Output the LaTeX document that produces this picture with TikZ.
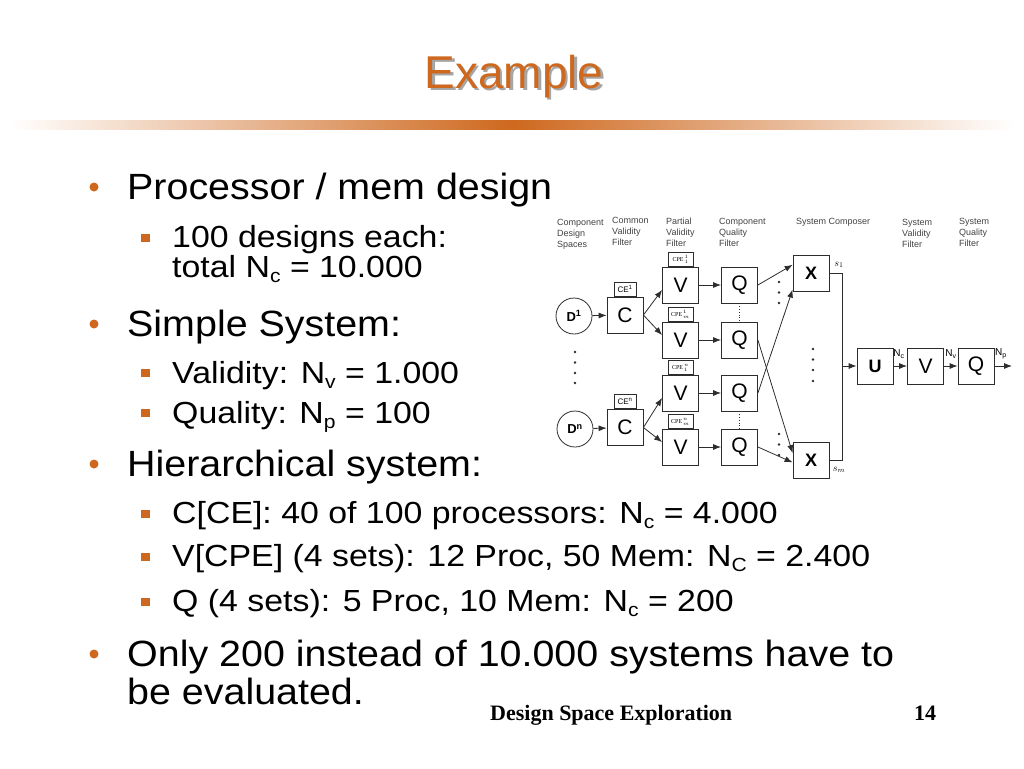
\documentclass[tikz,border=0pt]{standalone}
\usepackage{fontspec}
\setmainfont{Liberation Sans}
\newfontfamily\timesfont{Liberation Serif}
\newfontfamily\bodyfont[FakeStretch=1.08]{Liberation Sans}
\newfontfamily\itemfont[FakeStretch=1.11]{Liberation Sans}
\usepackage{tikz}
\usetikzlibrary{arrows.meta, positioning}
\usepackage{xcolor}
\definecolor{slideorange}{RGB}{206,104,30}
\definecolor{ink}{RGB}{45,45,45}
\newcommand\lowsub[1]{\raisebox{-0.17em}{\fontsize{19}{19}\selectfont #1}}

\begin{document}
\begin{tikzpicture}[x=1pt, y=-1pt,
    mainitem/.style={anchor=base west, inner sep=0pt, font=\bodyfont\fontsize{36.5}{40}\selectfont},
    subitem/.style={anchor=base west, inner sep=0pt, font=\itemfont\fontsize{30.5}{34}\selectfont},
    hdr/.style={anchor=north west, align=left, inner sep=0pt, text=ink!90, font=\fontsize{9}{11}\selectfont},
    box/.style={draw=ink, line width=0.8pt, minimum width=36pt, minimum height=36pt, inner sep=0pt, font=\fontsize{21}{21}\selectfont},
    disc/.style={draw=ink, line width=0.8pt, circle, minimum size=36pt, inner sep=0pt, font=\fontsize{13}{13}\selectfont\bfseries},
    tab/.style={draw=ink, line width=0.8pt, fill=white, minimum height=14pt, inner sep=0.5pt},
    arr/.style={draw=ink, line width=0.8pt, -{Latex[length=8pt, width=6pt]}},
    wire/.style={draw=ink, line width=0.8pt}]
        \useasboundingbox (0,0) rectangle (1024,768);
        % Title
        \node[anchor=base, text=black!35, font=\fontsize{46}{50}\selectfont] (titleshadow) at (516.5,90.5) {Example};
        \node[anchor=base, text=slideorange, font=\fontsize{46}{50}\selectfont] (title) at (514,88) {Example};
        \shade[left color=white, right color=slideorange] (10,120) rectangle (512,129);
        \shade[left color=slideorange, right color=white] (512,120) rectangle (1014,129);
        % Bullets
        \fill[slideorange] (94,187) circle (4.5);
        \fill[slideorange] (94,324) circle (4.5);
        \fill[slideorange] (94,464) circle (4.5);
        \fill[slideorange] (94,654) circle (4.5);
        \fill[slideorange] (141,234) rectangle (150,242);
        \fill[slideorange] (141,369) rectangle (150,377);
        \fill[slideorange] (141,409) rectangle (150,417);
        \fill[slideorange] (141,510) rectangle (150,518);
        \fill[slideorange] (141,553) rectangle (150,561);
        \fill[slideorange] (141,598) rectangle (150,606);
        % Text
        \node[mainitem] (procmem) at (127,199) {Processor / mem design};
        \node[subitem] (designs) at (172,247) {100 designs each:};
        \node[subitem] (total) at (172,277) {total N\lowsub{c} = 10.000};
        \node[mainitem] (simple) at (127,336) {Simple System:};
        \node[subitem] (validity) at (172,383) {Validity: N\lowsub{v} = 1.000};
        \node[subitem] (quality) at (172,423) {Quality: N\lowsub{p} = 100};
        \node[mainitem] (hier) at (127,476) {Hierarchical system:};
        \node[subitem] (cce) at (172,523) {C[CE]: 40 of 100 processors: N\lowsub{c} = 4.000};
        \node[subitem] (vcpe) at (172,566) {V[CPE] (4 sets): 12 Proc, 50 Mem: N\lowsub{C} = 2.400};
        \node[subitem] (qsets) at (172,611) {Q (4 sets): 5 Proc, 10 Mem: N\lowsub{c} = 200};
        \node[mainitem] (only) at (127,666) {Only 200 instead of 10.000 systems have to};
        \node[mainitem] (evaluated) at (127,704) {be evaluated.};
        % Footer
        \node[anchor=base west, inner sep=0pt, font=\timesfont\bfseries\fontsize{22}{24}\selectfont] (footer) at (490,720) {Design Space Exploration};
        \node[anchor=base west, inner sep=0pt, font=\timesfont\bfseries\fontsize{22}{24}\selectfont] (pagenum) at (914,720) {14};
        % Column headers
        \node[hdr] (hcds) at (557,219) {Component\\Design\\Spaces};
        \node[hdr] (hcvf) at (612,217) {Common\\Validity\\Filter};
        \node[hdr] (hpvf) at (666,218) {Partial\\Validity\\Filter};
        \node[hdr] (hcqf) at (719,218) {Component\\Quality\\Filter};
        \node[hdr] (hsc) at (796,218) {System Composer};
        \node[hdr] (hsvf) at (902,219) {System\\Validity\\Filter};
        \node[hdr] (hsqf) at (959,218) {System\\Quality\\Filter};
        % Design spaces and filters
        \node[disc] (D1) at (574,316) {D\textsuperscript{1}};
        \node[disc] (Dn) at (575,429) {D\textsuperscript{n}};
        \node[box] (C1) at (625,315) {C};
        \node[box] (Cn) at (625,427.5) {C};
        \node[tab, minimum width=22pt, above=0pt of C1, font=\fontsize{8}{8}\selectfont] (CE1) {CE\textsuperscript{1}};
        \node[tab, minimum width=22pt, above=0pt of Cn, font=\fontsize{8}{8}\selectfont] (CEn) {CE\textsuperscript{n}};
        \node[box] (V1) at (680.5,285) {V};
        \node[box] (V2) at (680.5,340) {V};
        \node[box] (V3) at (680.5,393) {V};
        \node[box] (V4) at (680.5,447) {V};
        \node[tab, minimum width=25pt, text height=6pt, text depth=2pt, above=0pt of V1, font=\timesfont\fontsize{6}{6}\selectfont] (CPE11) {CPE\,$^{\scriptscriptstyle 1}_{\scriptscriptstyle 1}$};
        \node[tab, minimum width=25pt, text height=6pt, text depth=2pt, above=0pt of V2, font=\timesfont\fontsize{6}{6}\selectfont] (CPE1m) {CPE\,$^{\scriptscriptstyle 1}_{\scriptscriptstyle m}$};
        \node[tab, minimum width=25pt, text height=6pt, text depth=2pt, above=0pt of V3, font=\timesfont\fontsize{6}{6}\selectfont] (CPEn1) {CPE\,$^{\scriptscriptstyle n}_{\scriptscriptstyle 1}$};
        \node[tab, minimum width=25pt, text height=6pt, text depth=2pt, above=0pt of V4, font=\timesfont\fontsize{6}{6}\selectfont] (CPEnm) {CPE\,$^{\scriptscriptstyle n}_{\scriptscriptstyle m}$};
        \node[box] (Q1) at (739.5,285) {Q};
        \node[box] (Q2) at (739.5,340) {Q};
        \node[box] (Q3) at (739.5,393) {Q};
        \node[box] (Q4) at (739.5,447) {Q};
        % Composer and system filters
        \node[box, font=\fontsize{18}{18}\selectfont\bfseries] (X1) at (811,273) {X};
        \node[box, font=\fontsize{18}{18}\selectfont\bfseries] (Xm) at (811,460.5) {X};
        \node[box, font=\fontsize{18}{18}\selectfont\bfseries] (U) at (875,366) {U};
        \node[box] (Vs) at (925.5,366) {V};
        \node[box] (Qs) at (976,366) {Q};
        \node[font=\fontsize{10}{10}\selectfont, inner sep=0pt] (s1) at (839,265) {$s_1$};
        \node[font=\fontsize{10}{10}\selectfont, inner sep=0pt] (sm) at (839,470) {$s_m$};
        \node[font=\fontsize{10}{10}\selectfont, inner sep=0pt] (Nc) at (899,354) {N\textsubscript{c}};
        \node[font=\fontsize{10}{10}\selectfont, inner sep=0pt] (Nv) at (951,354) {N\textsubscript{v}};
        \node[font=\fontsize{10}{10}\selectfont, inner sep=0pt] (Np) at (1001,354) {N\textsubscript{p}};
        \coordinate (bustop) at (842,273);
        \coordinate (busbot) at (842,460.5);
        \coordinate (busmid) at (842,366);
        \coordinate (out) at (1012,366);
        % Connectors
        \draw[arr] (D1) -- (C1);
        \draw[arr] (Dn) -- (Cn);
        \draw[arr] (C1.east) -- (V1.195);
        \draw[arr] (C1.east) -- (V2.165);
        \draw[arr] (Cn.east) -- (V3.195);
        \draw[arr] (Cn.east) -- (V4.165);
        \draw[arr] (V1) -- (Q1);
        \draw[arr] (V2) -- (Q2);
        \draw[arr] (V3) -- (Q3);
        \draw[arr] (V4) -- (Q4);
        \draw[arr] (Q1.east) -- (X1.156);
        \draw[arr] (Q3.east) -- (X1.222);
        \draw[arr] (Q2.east) -- (Xm.158);
        \draw[arr] (Q4.east) -- (Xm.186);
        \draw[wire] (X1.east) -- (bustop) -- (busbot) -- (Xm.east);
        \draw[arr] (busmid) -- (U);
        \draw[arr] (U) -- (Vs);
        \draw[arr] (Vs) -- (Qs);
        \draw[arr] (Qs.east) -- (out);
        % Dots
        \draw[ink, dotted, line width=0.8pt] (Q1.south) -- (Q2.north);
        \draw[ink, dotted, line width=0.8pt] (Q3.south) -- (Q4.north);
        \fill[ink] (575,352) circle (1.4) (575,362.5) circle (1.4) (575,373) circle (1.4) (575,383) circle (1.4);
        \fill[ink] (779,282) circle (1.4) (779,292.5) circle (1.4) (779,303) circle (1.4);
        \fill[ink] (779,434) circle (1.4) (779,444.5) circle (1.4) (779,455) circle (1.4);
        \fill[ink] (813,349) circle (1.4) (813,359.5) circle (1.4) (813,370) circle (1.4) (813,381) circle (1.4);
    \end{tikzpicture}
\end{document}
